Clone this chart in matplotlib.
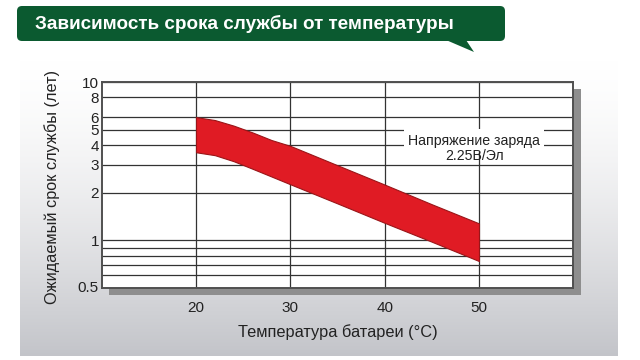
import numpy as np
import matplotlib
matplotlib.use('agg')
import matplotlib.pyplot as plt
from matplotlib.patches import FancyBboxPatch, Rectangle, Polygon
from matplotlib.ticker import FixedLocator, NullLocator

plt.rcParams['font.family'] = ['Liberation Sans', 'DejaVu Sans']

# data
temp = [20, 22, 24, 26, 28, 30, 35, 40, 45, 50]
life_upper = [6.0, 5.75, 5.3, 4.8, 4.3, 3.95, 2.98, 2.25, 1.69, 1.28]
life_lower = [3.6, 3.45, 3.16, 2.83, 2.53, 2.26, 1.71, 1.29, 0.98, 0.74]

x_ticks = [20, 30, 40, 50]
y_grid = [0.6, 0.7, 0.8, 0.9, 1, 2, 3, 4, 5, 6, 8, 10]
y_labels = ['', '', '', '', '1', '2', '3', '4', '5', '6', '8', '10']

title = 'Зависимость срока службы от температуры'
note = ['Напряжение заряда', '2.25В/Эл']

W, H = 640, 360
fig = plt.figure(figsize=(6.4, 3.6), dpi=100)
fig.patch.set_facecolor('white')

# background layer in pixel coords
bg = fig.add_axes([0, 0, 1, 1], zorder=0)
bg.set_xlim(0, W)
bg.set_ylim(H, 0)
bg.axis('off')

top = np.array([1.0, 1.0, 1.0])
bot = np.array([0.765, 0.77, 0.79])
t = np.linspace(0, 1, 200) ** 1.5
grad = (top[None, :] * (1 - t[:, None]) + bot[None, :] * t[:, None])[:, None, :]
bg.imshow(grad, extent=(20, 618, 356, 60), aspect='auto', origin='upper')

# plot shadow
bg.add_patch(Rectangle((109, 89), 472, 206, color='#8e8e8e', lw=0))

# title banner
bg.add_patch(FancyBboxPatch((17, 6), 488, 35, boxstyle='round,pad=0,rounding_size=5',
                            fc='#0b5a30', ec='none'))
bg.add_patch(Polygon([(446, 40), (466, 40), (474, 52)], closed=True, fc='#0b5a30', ec='none'))
bg.text(35, 24, title, color='white', fontsize=13.6, fontweight='bold', va='center', ha='left')

# main plot
ax = fig.add_axes([101.7 / W, 72 / H, (573.3 - 101.7) / W, (288 - 82) / H], zorder=2)
ax.set_facecolor('white')
ax.set_yscale('log')
ax.set_xlim(10, 60)
ax.set_ylim(0.5, 10)

ax.fill_between(temp, life_lower, life_upper, facecolor='#e01b24', edgecolor='#9a1518',
                linewidth=0.8, zorder=3)

ax.yaxis.set_major_locator(FixedLocator(y_grid))
ax.yaxis.set_minor_locator(NullLocator())
ax.set_yticklabels(y_labels)
ax.set_xticks(x_ticks)
ax.grid(True, color='#333333', linewidth=0.9)
ax.set_axisbelow(True)

# 0.5 label sits on the bottom edge
ax.text(-0.006, 0.5, '0.5', transform=ax.get_yaxis_transform(), ha='right', va='center',
        fontsize=11, color='#222222')

ax.tick_params(axis='y', length=0, pad=2, labelsize=11, labelcolor='#222222')
ax.tick_params(axis='x', length=0, pad=9, labelsize=11, labelcolor='#222222')
for s in ax.spines.values():
    s.set_color('#505050')
    s.set_linewidth(1.4)

ax.set_xlabel('Температура батареи (°C)', fontsize=11.8, color='#222222', labelpad=7)
fig.text(52 / W, 1 - 187 / H, 'Ожидаемый срок службы (лет)', rotation=90, fontsize=11.7,
         color='#222222', ha='center', va='center')

ax.text(49.5, 4.26, note[0], ha='center', va='center', fontsize=10.2, color='#222222',
        zorder=4, bbox=dict(boxstyle='square,pad=0.3', fc='white', ec='none'))
ax.text(49.5, 3.4, note[1], ha='center', va='center', fontsize=10.2, color='#222222', zorder=4)

fig.savefig('out.png', dpi=100)
